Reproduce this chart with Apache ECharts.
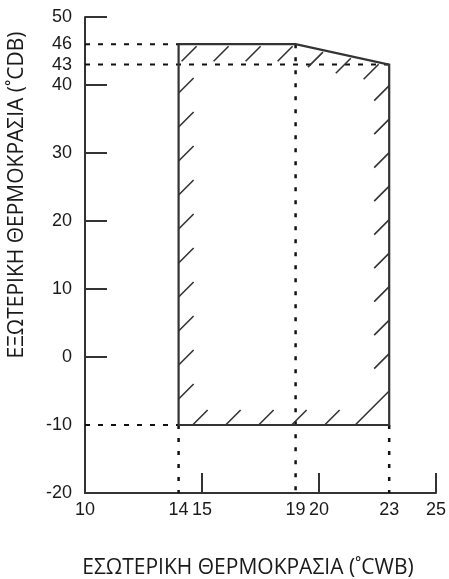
<!DOCTYPE html>
<html><head><meta charset="utf-8">
<script src="https://cdn.jsdelivr.net/npm/echarts@6/dist/echarts.min.js"></script>
<style>html,body{margin:0;padding:0;background:#fff}#c{width:449px;height:579px}</style>
</head><body><div id="c"></div>
<script>
// ---- data ----
const xLabelValues = [10, 14, 15, 19, 20, 23, 25];
const xTickValues = [15, 20, 25];
const yLabelValues = [-20, -10, 0, 10, 20, 30, 40, 43, 46, 50];
const yTickValues = [0, 10, 20, 30, 40, 50];
const envelope = [[14, -10], [14, 46], [19, 46], [23, 43], [23, -10]];
const guideH46 = [[10, 46], [14, 46]];
const guideH43 = [[10, 43], [23, 43]];
const guideHm10 = [[10, -10], [14, -10]];
const guideV14 = [[14, -10], [14, -20]];
const guideV19 = [[19, 46], [19, -20]];
const guideV23 = [[23, -10], [23, -20]];
const xName = 'ΕΣΩΤΕΡΙΚΗ ΘΕΡΜΟΚΡΑΣΙΑ (˚CWB)';
const yName = 'ΕΞΩΤΕΡΙΚΗ ΘΕΡΜΟΚΡΑΣΙΑ (˚CDB)';

const chart = echarts.init(document.getElementById('c'), null, {renderer: 'canvas'});
const axisCol = '#333';
const labelFont = {fontFamily: 'Liberation Sans', fontSize: 18, color: '#1a1a1a'};

function guide(data, dash, w) {
  return {
    type: 'line', data: data, symbol: 'none', silent: true, z: 2,
    lineStyle: {color: '#111', width: w, type: dash}, animation: false
  };
}

function strokesAlong(A, B, off, step, endOff, vec, inset) {
  const dx = B[0] - A[0], dy = B[1] - A[1];
  const L = Math.hypot(dx, dy);
  const out = [];
  for (let t = off; t <= L - endOff + 0.01; t += step) {
    const px = A[0] + dx * t / L + inset[0], py = A[1] + dy * t / L + inset[1];
    out.push([px, py, px + vec[0], py + vec[1]]);
  }
  return out;
}

function renderEnvelope(params, api) {
  const p = envelope.map(v => api.coord(v));
  const up = [15, -15], down = [-15, 15];
  let segs = [];
  segs = segs.concat(strokesAlong(p[0], p[1], 26, 34, 40, up, [0, 0]));
  segs = segs.concat(strokesAlong(p[1], p[2], 18, 32, 0, down, [0, 2]));
  segs = segs.concat(strokesAlong(p[2], p[3], 28, 28.5, 10, down, [0, 2]));
  segs = segs.concat(strokesAlong(p[3], p[4], 21, 33.5, 60, down, [0, 0]));
  segs = segs.concat(strokesAlong(p[0], p[4], 14, 33, 50, up, [0, 0]));
  const c = p[4];
  segs.push([c[0] - 34, c[1], c[0], c[1] - 34]);
  const children = segs.map(s => ({
    type: 'line', shape: {x1: s[0], y1: s[1], x2: s[2], y2: s[3]},
    style: {stroke: axisCol, lineWidth: 1.6}
  }));
  children.push({
    type: 'polygon', shape: {points: p},
    style: {fill: null, stroke: axisCol, lineWidth: 2.2}
  });
  return {type: 'group', children: children};
}

chart.setOption({
  animation: false,
  backgroundColor: '#fff',
  grid: {left: 85, right: 7, top: 17, bottom: 86, containLabel: false},
  xAxis: {
    type: 'value', min: 10, max: 25,
    axisLine: {show: true, onZero: false, lineStyle: {color: axisCol, width: 2}},
    splitLine: {show: false},
    axisTick: {show: true, customValues: xTickValues, inside: true, length: 20, lineStyle: {color: axisCol, width: 2}},
    axisLabel: Object.assign({customValues: xLabelValues, margin: 8}, labelFont)
  },
  yAxis: {
    type: 'value', min: -20, max: 50,
    axisLine: {show: true, onZero: false, lineStyle: {color: axisCol, width: 2}},
    splitLine: {show: false},
    axisTick: {show: true, customValues: yTickValues, inside: true, length: 22, lineStyle: {color: axisCol, width: 2}},
    axisLabel: Object.assign({customValues: yLabelValues, margin: 13}, labelFont)
  },
  graphic: [
    {type: 'text', x: 248, y: 568, style: {text: xName, font: '21px "Open Sans"', fill: '#1a1a1a', align: 'center', verticalAlign: 'middle'}},
    {type: 'text', x: 17, y: 195, rotation: Math.PI / 2, style: {text: yName, font: '21px "Open Sans"', fill: '#1a1a1a', align: 'center', verticalAlign: 'middle'}}
  ],
  series: [
    guide(guideH46, [5, 8], 2),
    guide(guideH43, [5, 8], 2),
    guide(guideHm10, [5, 8], 2),
    guide(guideV14, [4, 9], 2.5),
    guide(guideV19, [4, 9], 2.5),
    guide(guideV23, [4, 9], 2.5),
    {
      type: 'custom', coordinateSystem: 'cartesian2d', z: 3, silent: true, clip: false,
      data: [envelope[0]], encode: {x: 0, y: 1},
      renderItem: renderEnvelope
    }
  ]
});
</script>
</body></html>
